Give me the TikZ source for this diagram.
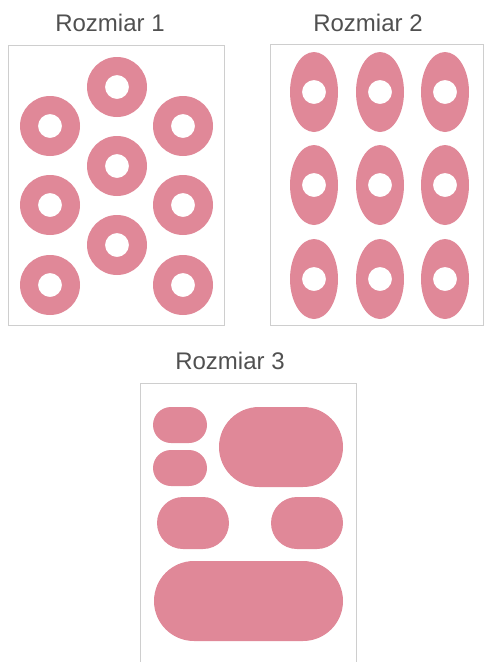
\documentclass[tikz,border=0pt]{standalone}
\usepackage{fontspec}
\setmainfont{Liberation Sans}
\definecolor{padpink}{RGB}{224,136,152}
\definecolor{framegray}{RGB}{206,206,206}
\definecolor{titlegray}{RGB}{80,80,80}

\begin{document}
\begin{tikzpicture}[x=1pt,y=-1pt,
  frame/.style={draw=framegray,line width=1pt},
  title/.style={text=titlegray,font=\fontsize{24}{26}\selectfont},
  pad/.style={fill=padpink,even odd rule}]
\useasboundingbox (0,0) rectangle (486,662);
% Rozmiar 1: round rings
\node[title] (size1) at (110,23) {Rozmiar 1};
\draw[frame] (8,45) rectangle (224,325);
\foreach \y in {126,205,285} {
  \fill[pad] (50,\y) circle (30pt) (50,\y) circle (12pt);
  \fill[pad] (183,\y) circle (30pt) (183,\y) circle (12pt);
}
\foreach \y in {87,166,245} \fill[pad] (117,\y) circle (30pt) (117,\y) circle (12pt);
% Rozmiar 2: oval rings
\node[title] (size2) at (368,23) {Rozmiar 2};
\draw[frame] (270,44) rectangle (483,325);
\foreach \x in {314,380,445} \foreach \y in {92,185,279}
  \fill[pad] (\x,\y) ellipse [x radius=24pt,y radius=40pt] (\x,\y) circle (12pt);
% Rozmiar 3: rounded pads
\node[title] (size3) at (230,361) {Rozmiar 3};
\draw[frame] (140,662) |- (356,383) -- (356,662);
\fill[padpink,rounded corners=18pt] (153,407) rectangle (207,443);
\fill[padpink,rounded corners=18pt] (153,450) rectangle (207,486);
\fill[padpink,rounded corners=40pt] (219,407) rectangle (343,487);
\fill[padpink,rounded corners=26pt] (157,497) rectangle (229,549);
\fill[padpink,rounded corners=26pt] (271,497) rectangle (343,549);
\fill[padpink,rounded corners=40pt] (154,561) rectangle (343,641);
\end{tikzpicture}
\end{document}
